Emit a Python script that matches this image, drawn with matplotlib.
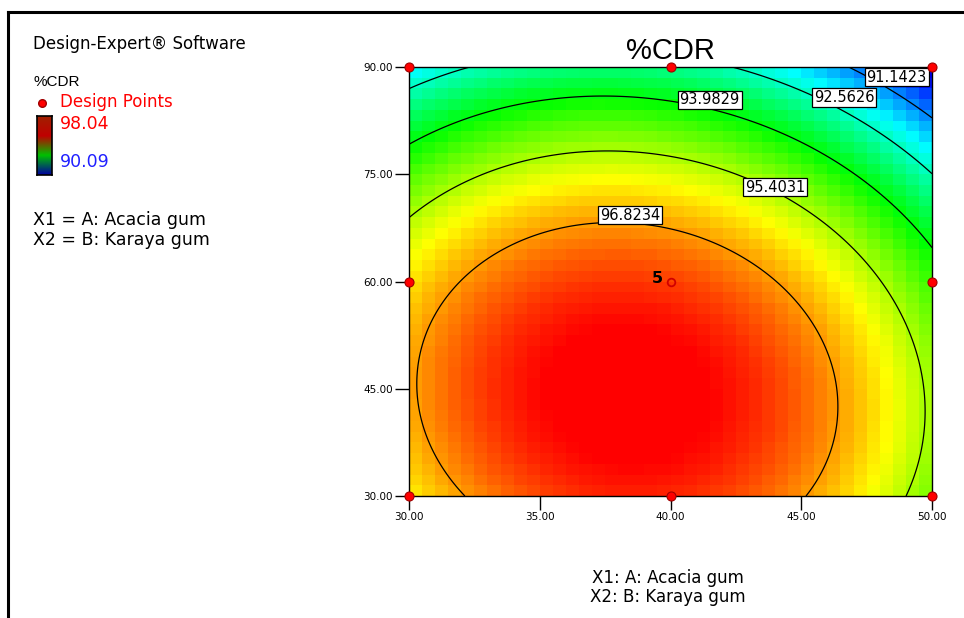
import numpy as np
import matplotlib
matplotlib.use("Agg")
import matplotlib.pyplot as plt
from matplotlib.colors import LinearSegmentedColormap, Normalize
from matplotlib.ticker import FormatStrFormatter

plt.rcParams['font.family'] = ['Liberation Sans', 'DejaVu Sans']
WIDE = ['DejaVu Sans']

# ---- data ----
title = "%CDR"
factor_A_name = "A: Acacia gum"
factor_B_name = "B: Karaya gum"
A_range = [30.0, 50.0]
B_range = [30.0, 90.0]
x_ticks = [30.0, 35.0, 40.0, 45.0, 50.0]
y_ticks = [30.0, 45.0, 60.0, 75.0, 90.0]
resp_min = 90.09
resp_max = 98.04
contour_levels = [91.1423, 92.5626, 93.9829, 95.4031, 96.8234]
# quadratic model in coded units: b0, bA, bB, bAB, bA2, bB2
model_coef = [97.54, -0.88, -2.38, -0.29, -2.20, -2.20]
design_A = [30, 40, 50, 30, 50, 30, 40, 50]
design_B = [30, 30, 30, 60, 60, 90, 90, 90]
center_A = 40
center_B = 60
center_reps = 5
# label anchor positions (A, B) for each contour level
label_A = [48.65, 46.65, 41.5, 44.0, 38.45]
label_B = [88.6, 85.7, 85.4, 73.2, 69.3]


def model(A, B):
    x = (A - 40.0) / 10.0
    y = (B - 60.0) / 30.0
    b0, b1, b2, b12, b11, b22 = model_coef
    return b0 + b1 * x + b2 * y + b12 * x * y + b11 * x ** 2 + b22 * y ** 2


cmap = LinearSegmentedColormap.from_list(
    "de", ["#0000ff", "#00ffff", "#00ff00", "#ffff00", "#ff0000"])
norm = Normalize(vmin=resp_min, vmax=resp_max, clip=True)

fig = plt.figure(figsize=(9.64, 6.18), dpi=100)

# outer frame lines (top and left)
fig.add_artist(plt.Line2D([8 / 964, 1.0], [1 - 12 / 618, 1 - 12 / 618],
                          color='black', lw=2.2, transform=fig.transFigure))
fig.add_artist(plt.Line2D([8 / 964, 8 / 964], [1 - 12 / 618, 0.0],
                          color='black', lw=2.2, transform=fig.transFigure))

ax = fig.add_axes([409 / 964, 1 - 496 / 618, (932 - 409) / 964, (496 - 67) / 618])

# blocky colour surface
ncell = 40
ae = np.linspace(A_range[0], A_range[1], ncell + 1)
be = np.linspace(B_range[0], B_range[1], ncell + 1)
ac = 0.5 * (ae[:-1] + ae[1:])
bc = 0.5 * (be[:-1] + be[1:])
AC, BC = np.meshgrid(ac, bc)
ax.pcolormesh(ae, be, model(AC, BC), cmap=cmap, norm=norm, shading='flat')

# contour lines
af = np.linspace(A_range[0], A_range[1], 300)
bf = np.linspace(B_range[0], B_range[1], 300)
AF, BF = np.meshgrid(af, bf)
ax.contour(AF, BF, model(AF, BF), levels=contour_levels, colors='black',
           linewidths=0.9)

for lev, la, lb in zip(contour_levels, label_A, label_B):
    ax.text(la, lb, f"{lev:.4f}", fontsize=10.5, family=WIDE, ha='center',
            va='center', zorder=5,
            bbox=dict(boxstyle='square,pad=0.12', fc='white', ec='black', lw=0.9))

# design points
ax.plot(design_A, design_B, 'o', ms=6.5, mfc='#ff0000', mec='#a00000', mew=0.8,
        clip_on=False, zorder=6)
ax.plot([center_A], [center_B], 'o', ms=5.5, mfc='none', mec='#d00000', mew=1.3,
        clip_on=False, zorder=6)
ax.text(center_A - 0.3, center_B + 0.4, str(center_reps), fontsize=11.5,
        family=WIDE, ha='right', va='center', fontweight='bold', zorder=6)

ax.set_xlim(A_range)
ax.set_ylim(B_range)
ax.set_xticks(x_ticks)
ax.set_yticks(y_ticks)
ax.xaxis.set_major_formatter(FormatStrFormatter('%.2f'))
ax.yaxis.set_major_formatter(FormatStrFormatter('%.2f'))
ax.tick_params(direction='out', length=10, width=1, labelsize=7.5, pad=1.5)
for lab in ax.get_xticklabels() + ax.get_yticklabels():
    lab.set_family(WIDE)
for s in ax.spines.values():
    s.set_linewidth(1.0)
ax.set_title(title, fontsize=21, pad=6)

# axis descriptions under the plot
fig.text(668 / 964, 1 - 578 / 618, "X1: " + factor_A_name, fontsize=12,
         family=WIDE, ha='center', va='center')
fig.text(668 / 964, 1 - 597 / 618, "X2: " + factor_B_name, fontsize=12,
         family=WIDE, ha='center', va='center')

# left legend panel
fig.text(33 / 964, 1 - 44 / 618, "Design-Expert® Software", fontsize=12,
         family=WIDE, ha='left', va='center')
fig.text(33 / 964, 1 - 82 / 618, title, fontsize=11, ha='left', va='center')
fig.add_artist(plt.Line2D([42 / 964], [1 - 103 / 618], marker='o', ms=5.5,
                          mfc='#ff0000', mec='#a00000', ls='none',
                          transform=fig.transFigure))
fig.text(60 / 964, 1 - 102 / 618, "Design Points", fontsize=12, family=WIDE,
         color='#ff0000', ha='left', va='center')
fig.text(60 / 964, 1 - 124 / 618, f"{resp_max:.2f}", fontsize=12.5, family=WIDE,
         color='#ff0000', ha='left', va='center')
fig.text(60 / 964, 1 - 162 / 618, f"{resp_min:.2f}", fontsize=12.5, family=WIDE,
         color='#2020ff', ha='left', va='center')
cax = fig.add_axes([37 / 964, 1 - 175 / 618, 15 / 964, 59 / 618])
grad = np.linspace(resp_max, resp_min, 100).reshape(-1, 1)
cax.imshow(grad, cmap=LinearSegmentedColormap.from_list(
    "bar", ["#0000a0", "#00c000", "#c00000", "#a02000"]),
    aspect='auto', extent=[0, 1, resp_min, resp_max],
    norm=Normalize(resp_min, resp_max), origin='upper')
cax.set_xticks([])
cax.set_yticks([])
for s in cax.spines.values():
    s.set_linewidth(1.2)

fig.text(33 / 964, 1 - 220 / 618, "X1 = " + factor_A_name, fontsize=12.5,
         family=WIDE, ha='left', va='center')
fig.text(33 / 964, 1 - 240 / 618, "X2 = " + factor_B_name, fontsize=12.5,
         family=WIDE, ha='left', va='center')

fig.savefig("out.png", dpi=100)
